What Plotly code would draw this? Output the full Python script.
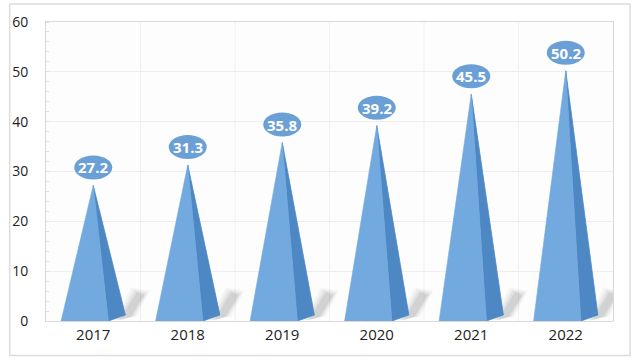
import plotly.graph_objects as go

years = ["2017", "2018", "2019", "2020", "2021", "2022"]
values = [27.2, 31.3, 35.8, 39.2, 45.5, 50.2]
y_ticks = [0, 10, 20, 30, 40, 50, 60]

FRONT = "#72a9df"
SIDE = "#4e88c4"
LABEL_BG = "#6aa0d6"

fig = go.Figure()

half = 0.34      # base half width (category units)
front_r = 0.16   # front face right edge
side_lift = 1.2  # back corner lift (y units)

for i, v in enumerate(values):
    # soft diagonal shadow (layered translucent polygons to mimic blur)
    for k, op in enumerate([0.035, 0.05, 0.07, 0.09]):
        s = 0.02 * (3 - k)
        fig.add_trace(go.Scatter(
            x=[i + 0.28 - s, i + 0.40 + s, i + 0.54 + s, i + 0.46 - s],
            y=[0.1, 0.9, 5.2 + s * 15, 5.8 + s * 15],
            fill="toself", fillcolor=f"rgba(70,70,70,{op})",
            line=dict(width=0), mode="lines", hoverinfo="skip", showlegend=False))
    # side face
    fig.add_trace(go.Scatter(
        x=[i + front_r, i + half, i, i + front_r],
        y=[0, side_lift, v, 0],
        fill="toself", fillcolor=SIDE, line=dict(width=0.8, color=SIDE),
        mode="lines", hoverinfo="skip", showlegend=False))
    # front face
    fig.add_trace(go.Scatter(
        x=[i - half, i + front_r, i, i - half],
        y=[0, 0, v, 0],
        fill="toself", fillcolor=FRONT, line=dict(width=0.6, color=FRONT),
        mode="lines", hoverinfo="skip", showlegend=False))

shapes = []
annotations = []
for i, v in enumerate(values):
    shapes.append(dict(type="circle", xref="x", yref="y",
                       xsizemode="pixel", ysizemode="pixel",
                       xanchor=i, yanchor=v,
                       x0=-19, x1=19, y0=6, y1=30,
                       fillcolor=LABEL_BG, line=dict(width=0), layer="above"))
    annotations.append(dict(x=i, y=v, text=f"<b>{v}</b>", showarrow=False,
                            yshift=18, font=dict(color="white", size=15, family="Open Sans")))

# outer frame
shapes.append(dict(type="rect", xref="paper", yref="paper",
                   x0=-0.064, x1=1.03, y0=-0.115, y1=1.06,
                   line=dict(color="#dcdcdc", width=1.5), layer="below"))

fig.update_layout(
    width=640, height=361,
    margin=dict(l=43, r=27, t=21, b=40),
    paper_bgcolor="white", plot_bgcolor="#fdfdfd",
    shapes=shapes, annotations=annotations,
    xaxis=dict(range=[-0.5, 5.5], tickmode="array", tickvals=list(range(6)), ticktext=years,
               showgrid=False, zeroline=False, showline=True, linecolor="#d9d9d9",
               mirror=True, ticks="", tickfont=dict(size=15, color="#222", family="Open Sans"),
               fixedrange=True),
    yaxis=dict(range=[0, 60], tickvals=y_ticks, showgrid=True, gridcolor="#eeeeee",
               zeroline=False, showline=True, linecolor="#d9d9d9", mirror=True,
               ticks="", ticklabelstandoff=14,
               tickfont=dict(size=14, color="#222", family="Open Sans"),
               minor=dict(dtick=2, ticks="inside", ticklen=3, tickcolor="#e0e0e0", showgrid=False),
               fixedrange=True),
)

# vertical grid lines at category boundaries
for b in [0.5, 1.5, 2.5, 3.5, 4.5]:
    fig.add_shape(type="line", xref="x", yref="paper", x0=b, x1=b, y0=0, y1=1,
                  line=dict(color="#f0f0f0", width=1), layer="below")

fig.write_html("out.html")
